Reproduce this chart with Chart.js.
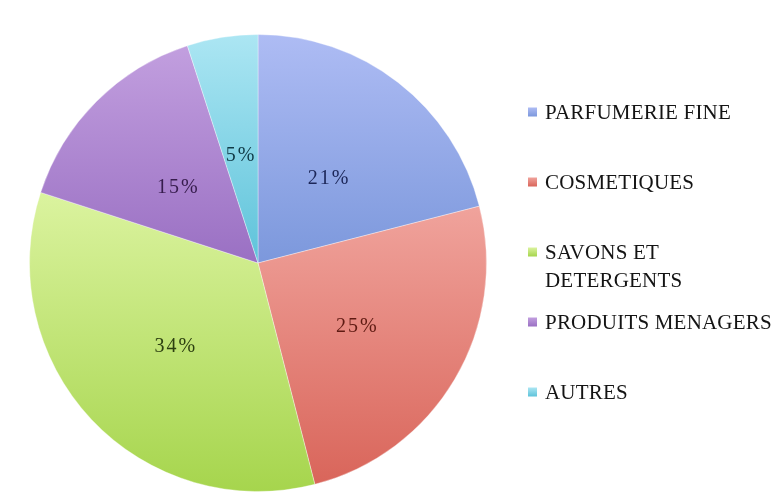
<!DOCTYPE html>
<html>
<head>
<meta charset="utf-8">
<title>Répartition du marché</title>
<script src="https://cdn.jsdelivr.net/npm/chart.js@4.4.1/dist/chart.umd.min.js"></script>
<style>
  html, body { margin: 0; padding: 0; background: #ffffff; }
  #wrap { width: 777px; height: 495px; }
</style>
</head>
<body>
<div id="wrap"><canvas id="pie" width="777" height="495"></canvas></div>
<script>
// Market segments and their shares (percent)
const categories = ['PARFUMERIE FINE', 'COSMETIQUES', ['SAVONS ET', 'DETERGENTS'], 'PRODUITS MENAGERS', 'AUTRES'];
const shares = [21, 25, 34, 15, 5];

// Each slice is shaded with a vertical gradient, light at the top, darker at the bottom
const topColors    = ['#aebcf4', '#f0a39c', '#dbf39f', '#c29fdf', '#ace6f3'];
const bottomColors = ['#7c98dc', '#d9655a', '#a6d54d', '#9a70c3', '#5ec3da'];
const valueColors  = ['#1c2658', '#5e1a12', '#2c3f10', '#361c4c', '#103a46'];

const SERIF = '"Liberation Serif", "Times New Roman", serif';

// y-extent of a slice so its gradient spans the slice itself
function sliceGradient(chart, index) {
  const area = chart.chartArea;
  if (!area) return topColors[index];
  const cx = (area.left + area.right) / 2;
  const cy = (area.top + area.bottom) / 2;
  const r = Math.min(area.right - area.left, area.bottom - area.top) / 2;
  const total = shares.reduce((a, b) => a + b, 0);
  let before = 0;
  for (let i = 0; i < index; i++) before += shares[i];
  const a0 = -Math.PI / 2 + before / total * Math.PI * 2;
  const a1 = a0 + shares[index] / total * Math.PI * 2;
  const ys = [cy, cy + r * Math.sin(a0), cy + r * Math.sin(a1)];
  const covers = (a) => (a0 <= a && a <= a1) || (a0 <= a + 2 * Math.PI && a + 2 * Math.PI <= a1);
  if (covers(Math.PI / 2)) ys.push(cy + r);
  if (covers(-Math.PI / 2) || covers(3 * Math.PI / 2)) ys.push(cy - r);
  const y0 = Math.min(...ys), y1 = Math.max(...ys);
  const g = chart.ctx.createLinearGradient(0, y0, 0, y1);
  g.addColorStop(0, topColors[index]);
  g.addColorStop(1, bottomColors[index]);
  return g;
}

// Percent values written inside the slices, a little below each slice's mid-point
const sliceValues = {
  id: 'sliceValues',
  afterDatasetsDraw(chart) {
    const ctx = chart.ctx;
    const meta = chart.getDatasetMeta(0);
    ctx.save();
    ctx.font = '20px ' + SERIF;
    ctx.letterSpacing = '2px';
    ctx.textAlign = 'center';
    ctx.textBaseline = 'middle';
    meta.data.forEach((arc, i) => {
      const p = arc.tooltipPosition();
      ctx.fillStyle = valueColors[i];
      ctx.fillText(shares[i] + '%', p.x + 1, p.y + 6);
    });
    ctx.restore();
  }
};

// Legend on the right, one block per segment at a fixed pitch
const sideLegend = {
  id: 'sideLegend',
  afterDraw(chart) {
    const ctx = chart.ctx;
    const x0 = 528, textX = 545, firstY = 112, step = 70, lineH = 28, box = 9;
    ctx.save();
    ctx.font = '21px ' + SERIF;
    ctx.letterSpacing = '0.2px';
    ctx.textAlign = 'left';
    ctx.textBaseline = 'middle';
    categories.forEach((label, i) => {
      const y = firstY + i * step;
      const lines = Array.isArray(label) ? label : [label];
      const g = ctx.createLinearGradient(0, y - box / 2, 0, y + box / 2);
      g.addColorStop(0, topColors[i]);
      g.addColorStop(1, bottomColors[i]);
      ctx.fillStyle = g;
      ctx.fillRect(x0, y - box / 2, box, box);
      ctx.fillStyle = '#141414';
      lines.forEach((t, k) => ctx.fillText(t, textX, y + k * lineH + 1));
    });
    ctx.restore();
  }
};

new Chart(document.getElementById('pie'), {
  type: 'pie',
  data: {
    labels: categories,
    datasets: [{
      data: shares,
      backgroundColor: (c) => sliceGradient(c.chart, c.dataIndex),
      borderColor: 'rgba(255,255,255,0.35)',
      borderWidth: 1
    }]
  },
  options: {
    responsive: false,
    animation: false,
    devicePixelRatio: 1,
    layout: { padding: { left: 29, top: 34, right: 290, bottom: 3 } },
    plugins: {
      legend: { display: false },
      tooltip: { enabled: false }
    }
  },
  plugins: [sliceValues, sideLegend]
});
</script>
</body>
</html>
